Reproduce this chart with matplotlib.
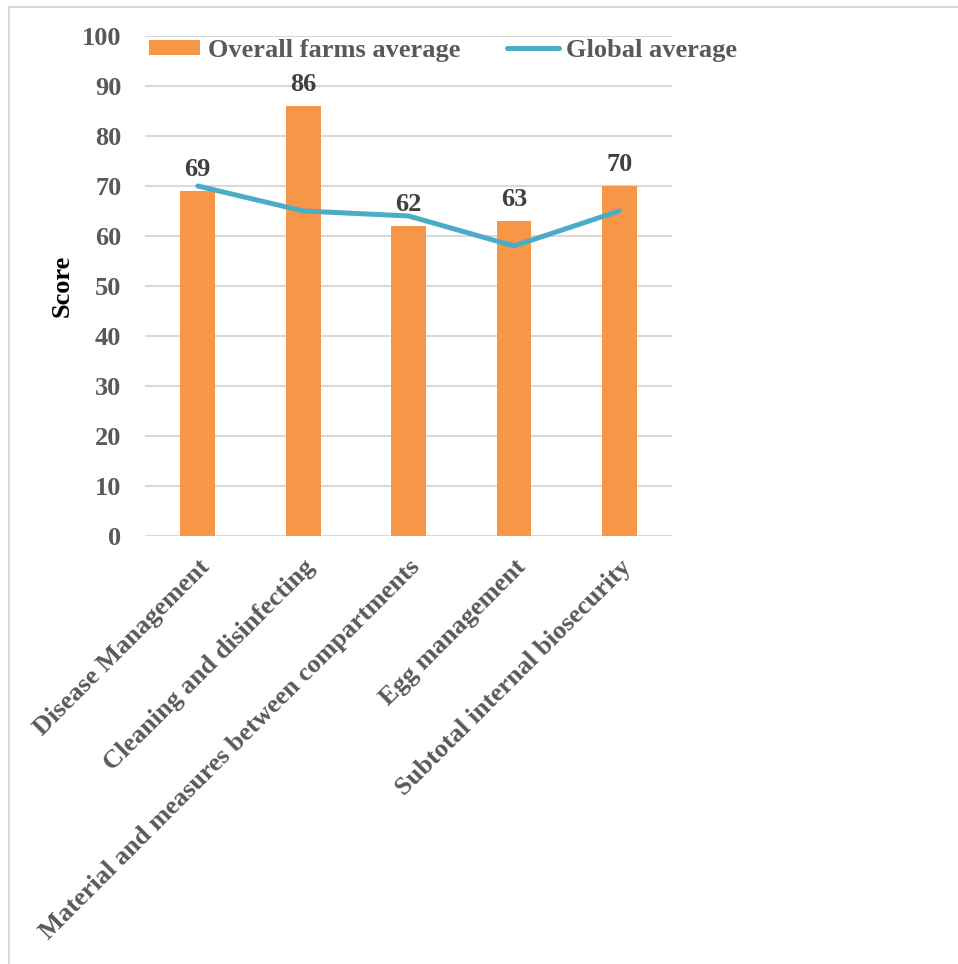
import matplotlib.pyplot as plt
from matplotlib.lines import Line2D
from matplotlib.patches import Patch

categories = [
    "Disease Management",
    "Cleaning and disinfecting",
    "Material and measures between compartments",
    "Egg management",
    "Subtotal internal biosecurity",
]
farm_avg = [69, 86, 62, 63, 70]
global_avg = [70, 65, 64, 58, 65]
yticks = [0, 10, 20, 30, 40, 50, 60, 70, 80, 90, 100]

BAR_COLOR = "#F79646"
LINE_COLOR = "#4BACC6"
TEXT_COLOR = "#595959"
LABEL_COLOR = "#404040"
GRID_COLOR = "#D9D9D9"
FS = 19

plt.rcParams["font.family"] = ["Liberation Serif", "DejaVu Serif"]
plt.rcParams["font.weight"] = "bold"

fig = plt.figure(figsize=(9.58, 9.64), dpi=100)
ax = fig.add_axes([0.1514, 0.444, 0.5501, 0.5187])

x = list(range(len(categories)))
ax.bar(x, farm_avg, width=0.33, color=BAR_COLOR, zorder=2)
ax.plot(x, global_avg, color=LINE_COLOR, linewidth=3.6,
        solid_capstyle="round", solid_joinstyle="round", zorder=3)

# value labels on top of the bars
for xi, v in zip(x, farm_avg):
    ax.annotate(str(v), (xi, v), xytext=(0, 7), textcoords="offset points",
                ha="center", va="bottom", fontsize=FS, fontweight="bold",
                color=LABEL_COLOR)

ax.set_xlim(-0.5, len(categories) - 0.5)
ax.set_ylim(0, 100)
ax.set_yticks(yticks)
ax.set_yticklabels([str(t) for t in yticks], fontsize=FS,
                   fontweight="bold", color=TEXT_COLOR)
ax.set_xticks(x)
ax.set_xticklabels(categories, rotation=45, ha="right",
                   rotation_mode="anchor", fontsize=FS,
                   fontweight="bold", color=TEXT_COLOR)
ax.tick_params(axis="both", length=0)
ax.tick_params(axis="y", pad=17)
ax.tick_params(axis="x", pad=14)

ax.set_ylabel("Score", fontsize=FS, fontweight="bold", color="black",
              labelpad=6)

ax.grid(axis="y", color=GRID_COLOR, linewidth=1.5, zorder=0)
ax.set_axisbelow(True)
for side in ["top", "right", "left", "bottom"]:
    ax.spines[side].set_visible(False)

handles = [
    Patch(facecolor=BAR_COLOR, edgecolor="none"),
    Line2D([0], [0], color=LINE_COLOR, linewidth=3.6, solid_capstyle="round"),
]
fig.legend(handles, ["Overall farms average", "Global average"],
           loc="center left", bbox_to_anchor=(0.1555, 0.948), ncol=2,
           frameon=False, borderpad=0, borderaxespad=0,
           handlelength=1.95, handleheight=0.5,
           handletextpad=0.27, columnspacing=1.8,
           prop={"size": FS, "weight": "bold"}, labelcolor=TEXT_COLOR)

# thin frame round the whole chart area
fig.add_artist(Line2D([0.0094, 1.0], [0.9927, 0.9927], color=GRID_COLOR,
                      linewidth=1.5, transform=fig.transFigure))
fig.add_artist(Line2D([0.0094, 0.0094], [0.0, 0.9927], color=GRID_COLOR,
                      linewidth=1.5, transform=fig.transFigure))

fig.savefig("out.png", dpi=100)
